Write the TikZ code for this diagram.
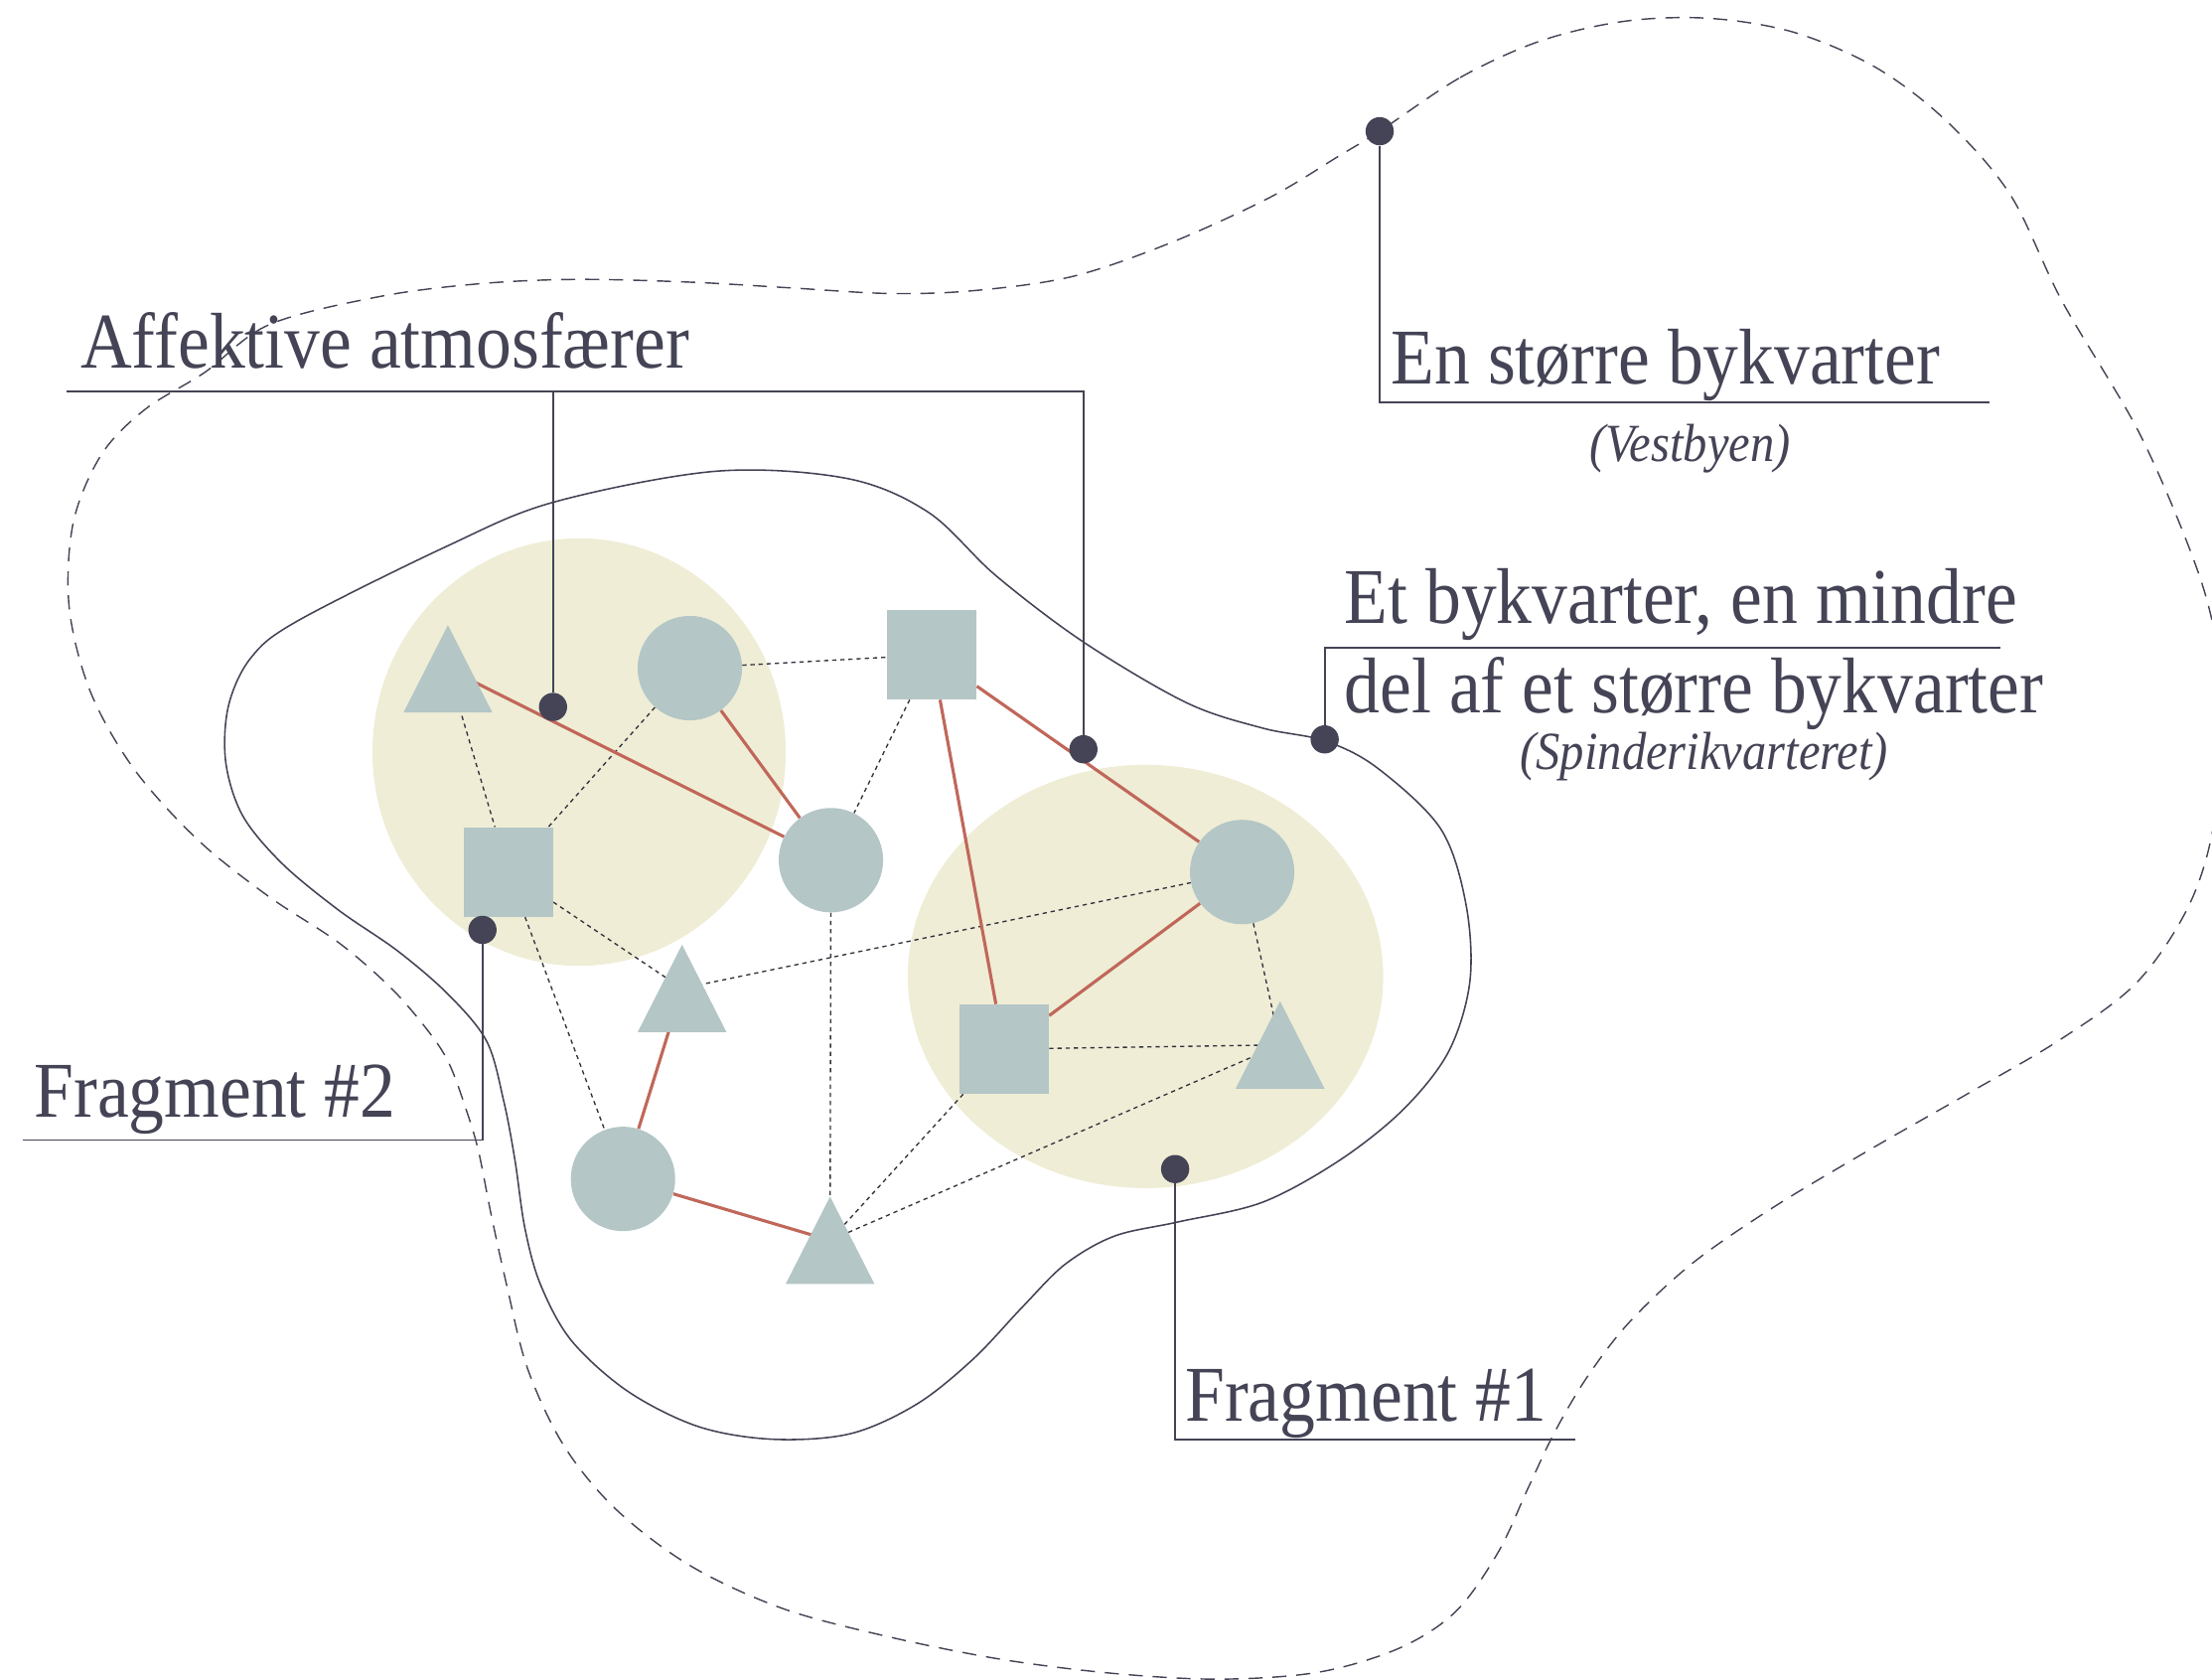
\documentclass[tikz,border=0pt]{standalone}
\usepackage{fontspec}
\setmainfont{Liberation Serif}[FakeStretch=0.9]
\usetikzlibrary{backgrounds}
\definecolor{ink}{HTML}{444456}
\definecolor{shp}{HTML}{B4C6C6}
\definecolor{atmo}{HTML}{EFEDD6}
\definecolor{rel}{HTML}{C0675A}
\definecolor{weak}{HTML}{33333D}
\begin{document}
\begin{tikzpicture}[x=1pt,y=-1pt,
  circ/.style={circle,fill=shp,minimum size=74pt,inner sep=0pt},
  sq/.style={rectangle,fill=shp,minimum size=63.5pt,inner sep=0pt},
  tri/.pic={\fill[shp] (0,-31) -- (31.5,31) -- (-31.5,31) -- cycle;},
  strong/.style={draw=rel,line width=2.2pt},
  weaklink/.style={draw=weak,line width=0.95pt,dash pattern=on 3pt off 2.8pt},
  blob/.style={draw=ink,line width=1.1pt},
  bigblob/.style={draw=ink,line width=1pt,dash pattern=on 10pt off 7pt},
  lbl/.style={draw=ink,line width=1.2pt},
  dot/.style={circle,fill=ink,minimum size=20pt,inner sep=0pt},
  lab/.style={text=ink,inner sep=0pt,font=\fontsize{56}{60}\selectfont},
  sub/.style={text=ink,inner sep=0pt,font=\fontsize{38}{42}\selectfont\itshape}]
\useasboundingbox (0,0) rectangle (1568,1190);

% outer dashed area
\draw[bigblob] plot[smooth cycle,tension=0.55] coordinates {
 (978,93) (1035,55) (1092,29) (1152,15) (1212,13) (1272,23) (1330,48) (1380,86)
 (1425,138) (1462,214) (1516,306) (1554,394) (1570,450) (1576,515) (1568,591)
 (1550,645) (1514,697) (1460,737) (1395,775) (1325,815) (1258,855) (1200,895)
 (1155,937) (1125,976) (1102,1015) (1083,1055) (1062,1100) (1032,1142)
 (992,1168) (935,1185) (865,1190) (790,1186) (710,1176) (630,1160)
 (555,1140) (490,1110) (437,1070) (400,1025) (374,970) (359,910) (348,860)
 (339,815) (330,785) (318,753) (303,730) (277,700) (240,668) (190,635)
 (140,595) (95,545) (64,490) (49,430) (52,370) (72,322) (103,290) (145,264)
 (191,230) (270,210) (341,201) (410,198) (490,200) (560,204) (630,208)
 (690,206) (760,196) (830,172) (900,140) (950,110)};

% inner solid area
\draw[blob] plot[smooth cycle,tension=0.55] coordinates {
 (211,440) (317,387) (392,356) (507,334) (600,339) (658,363) (706,408)
 (768,455) (841,498) (895,516) (939,525) (976,544) (1021,587) (1039,640)
 (1042,695) (1027,745) (995,786) (950,822) (895,852) (835,866) (790,876)
 (755,896) (725,926) (690,963) (650,995) (603,1016) (548,1020) (495,1011)
 (445,986) (405,950) (383,910) (372,870) (365,822) (357,780) (345,738)
 (318,705) (282,674) (240,645) (200,612) (172,578) (160,540) (162,500)
 (178,466)};

% graph nodes
\coordinate (A) at (317.5,474);
\node[circ] (B) at (489,473.5) {};
\node[sq] (C) at (660.5,464) {};
\node[sq] (D) at (360.3,618) {};
\node[circ] (E) at (589,609.6) {};
\coordinate (F) at (483.5,700.5);
\node[circ] (G) at (880.5,618) {};
\node[sq] (H) at (711.8,743.5) {};
\coordinate (I) at (907.4,740.5);
\node[circ] (J) at (441.6,835.5) {};
\coordinate (K) at (588.4,879);
\pic at (A) {tri};
\pic at (F) {tri};
\pic at (I) {tri};
\pic at (K) {tri};

\begin{scope}[on background layer]
  \fill[atmo] (410.5,533) ellipse [x radius=146.5, y radius=151.5];
  \fill[atmo] (812,692) ellipse [x radius=168.5, y radius=150];
  % weak links
  \draw[weaklink] (B) -- (C);
  \draw[weaklink] (A) -- (D);
  \draw[weaklink] (B) -- (D);
  \draw[weaklink] (C) -- (E);
  \draw[weaklink] (D) -- (F);
  \draw[weaklink] (D) -- (J);
  \draw[weaklink] (E) -- (K);
  \draw[weaklink] (F) -- (G);
  \draw[weaklink] (H) -- (K);
  \draw[weaklink] (I) -- (K);
  \draw[weaklink] (H) -- (I);
  \draw[weaklink] (G) -- (I);
  % strong links
  \draw[strong] (A) -- (E);
  \draw[strong] (B) -- (E);
  \draw[strong] (C) -- (G);
  \draw[strong] (C) -- (H);
  \draw[strong] (G) -- (H);
  \draw[strong] (F) -- (J);
  \draw[strong] (J) -- (K);
\end{scope}

% label: En større bykvarter
\node[dot] (d1) at (978,93) {};
\coordinate (c1) at (978,285);
\coordinate (c1e) at (1410,285);
\draw[lbl] (d1) -- (c1) -- (c1e);
\node[lab,anchor=base west] (t1) at (986,272) {En større bykvarter};
\node[sub,anchor=base] (t1s) at (1198,327) {(Vestbyen)};

% label: Affektive atmosfærer
\node[dot] (d2) at (392,501) {};
\node[dot] (d3) at (768,531) {};
\coordinate (a1) at (47,277.5);
\coordinate (a2) at (392,277.5);
\coordinate (a3) at (768,277.5);
\draw[lbl] (a1) -- (a3) -- (d3);
\draw[lbl] (a2) -- (d2);
\node[lab,anchor=base west] (t2) at (57,261) {Affektive atmosfærer};

% label: Et bykvarter
\node[dot] (d4) at (939,524) {};
\coordinate (e1) at (939,459);
\coordinate (e2) at (1418,459);
\draw[lbl] (d4) -- (e1) -- (e2);
\node[lab,anchor=base west] (t3) at (953,442) {Et bykvarter, en mindre};
\node[lab,anchor=base west] (t4) at (953,505) {del af et større bykvarter};
\node[sub,anchor=base] (t4s) at (1208,545) {(Spinderikvarteret)};

% label: Fragment #2
\node[dot] (d5) at (342,659) {};
\coordinate (f1) at (342,808);
\coordinate (f2) at (16,808);
\draw[lbl] (d5) -- (f1) -- (f2);
\node[lab,anchor=base west] (t5) at (24,792) {Fragment \#2};

% label: Fragment #1
\node[dot] (d6) at (833,828.5) {};
\coordinate (g1) at (833,1020);
\coordinate (g2) at (1117,1020);
\draw[lbl] (d6) -- (g1) -- (g2);
\node[lab,anchor=base west] (t6) at (840,1007) {Fragment \#1};
\end{tikzpicture}
\end{document}
